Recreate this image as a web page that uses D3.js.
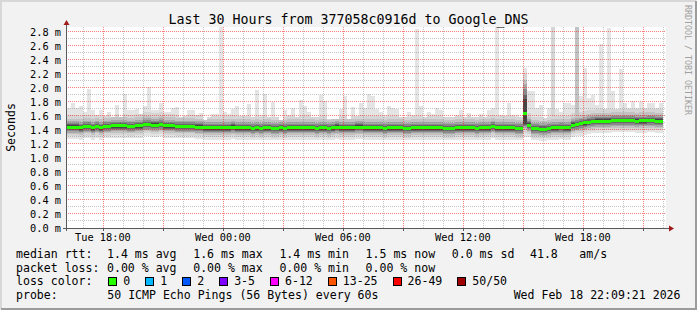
<!DOCTYPE html>
<html>
<head>
<meta charset="utf-8">
<title>Last 30 Hours from 377058c0916d to Google_DNS</title>
<script src="https://cdn.jsdelivr.net/npm/d3@7"></script>
<style>
    html, body { margin: 0; padding: 0; background: #f2f2f2; }
    svg { display: block; }
    text { font-family: "DejaVu Sans Mono", "Liberation Mono", monospace; fill: #000; white-space: pre; }
</style>
</head>
<body>
<div id="graph"></div>
<script>
const width = 697;
const height = 310;

const titleText = "Last 30 Hours from 377058c0916d to Google_DNS";
const yLabel = "Seconds";
const startTime = new Date(2026, 1, 17, 16, 9, 21);
const endTime = new Date(2026, 1, 18, 22, 9, 21);
const firstStep = new Date(2026, 1, 17, 16, 12, 0);
const stepMinutes = 12;
const yMax = 2.871;   // top of the canvas, ms

// median rtt of each 12 minute step (ms)
const medianRtt = [
    1.44, 1.44, 1.44, 1.43, 1.45, 1.45, 1.43, 1.45, 1.43, 1.45,
    1.45, 1.46, 1.46, 1.46, 1.46, 1.45, 1.45, 1.46, 1.46, 1.48,
    1.48, 1.47, 1.47, 1.48, 1.46, 1.46, 1.46, 1.45, 1.45, 1.45,
    1.45, 1.45, 1.44, 1.44, 1.43, 1.43, 1.43, 1.43, 1.43, 1.43,
    1.43, 1.44, 1.43, 1.43, 1.43, 1.43, 1.42, 1.43, 1.42, 1.43,
    1.43, 1.42, 1.42, 1.43, 1.42, 1.43, 1.43, 1.43, 1.43, 1.43,
    1.43, 1.43, 1.42, 1.43, 1.43, 1.42, 1.43, 1.44, 1.43, 1.43,
    1.43, 1.43, 1.44, 1.44, 1.43, 1.43, 1.43, 1.43, 1.43, 1.42,
    1.43, 1.43, 1.43, 1.43, 1.42, 1.42, 1.43, 1.43, 1.43, 1.43,
    1.43, 1.43, 1.43, 1.43, 1.42, 1.42, 1.42, 1.43, 1.43, 1.43,
    1.43, 1.43, 1.42, 1.43, 1.43, 1.43, 1.45, 1.43, 1.43, 1.43,
    1.43, 1.43, 1.42, 1.42, 1.64, 1.47, 1.42, 1.42, 1.41, 1.41,
    1.42, 1.43, 1.43, 1.435, 1.43, 1.43, 1.47, 1.48, 1.49, 1.50,
    1.51, 1.52, 1.525, 1.525, 1.525, 1.525, 1.535, 1.535, 1.535, 1.535,
    1.535, 1.535, 1.525, 1.53, 1.53, 1.535, 1.535, 1.525, 1.525
];

// slowest ping of each step (ms)
const maxRtt = [
    1.71, 1.79, 1.71, 1.74, 1.65, 1.99, 1.69, 1.61, 1.68, 1.60,
    1.65, 1.59, 1.76, 1.59, 1.91, 1.68, 1.69, 1.70, 1.63, 1.74,
    2.01, 1.69, 1.68, 1.78, 1.65, 1.65, 1.72, 1.73, 1.59, 1.60,
    1.69, 1.69, 1.61, 1.64, 1.54, 1.59, 1.63, 1.63, 2.87, 1.65,
    1.63, 1.70, 1.74, 1.60, 1.60, 1.77, 1.59, 1.97, 1.61, 1.91,
    1.59, 1.80, 1.58, 1.54, 1.69, 1.61, 1.71, 1.59, 1.83, 1.74,
    1.65, 1.58, 1.58, 1.90, 1.82, 1.56, 1.56, 1.55, 1.70, 1.89,
    1.56, 1.73, 1.60, 1.79, 1.71, 1.92, 1.89, 1.70, 1.66, 1.61,
    1.74, 1.72, 1.70, 1.59, 1.59, 1.66, 1.61, 2.84, 1.74, 1.59,
    1.66, 1.63, 1.72, 1.69, 1.59, 1.59, 1.58, 1.61, 1.69, 1.58,
    1.64, 1.59, 1.58, 1.63, 1.59, 1.69, 1.71, 2.87, 1.61, 1.60,
    1.79, 1.61, 1.61, 1.58, 2.29, 1.95, 1.95, 1.72, 1.76, 1.57,
    1.72, 2.87, 1.70, 1.66, 1.79, 1.78, 1.76, 2.87, 1.88, 2.28,
    1.86, 1.90, 1.76, 2.63, 1.70, 2.86, 1.95, 1.70, 2.27, 1.78,
    1.72, 1.81, 1.71, 1.80, 1.72, 1.79, 1.79, 1.72, 1.78
];

// the smoke: ranked pings as offsets from the median (ms), outer band first
const smokeLow = [-0.17, -0.13, -0.10, -0.08, -0.06, -0.04, -0.025];
const smokeHigh = [0, 0.17, 0.12, 0.085, 0.06, 0.04, 0.025];
const smokeColors = ["#e4e4e4", "#d5d5d5", "#c2c2c2", "#a8a8a8", "#8a8a8a", "#666666", "#454545"];

// steps where many pings were slow: band tops / bottoms (ms)
const tailSteps = [114, 121, 127];
const tailTops = [
    [0, 2.20, 2.12, 2.05, 1.98, 1.90, 1.84],
    [0, 2.87, 0, 0, 0, 0, 0],
    [0, 2.87, 2.87, 0, 0, 0, 0]
];
const tailBottoms = [
    [1.30, 1.36, 1.40, 1.43, 1.45, 1.47, 1.49],
    null,
    null
];

// legend values
const statNames = ["avg", "max", "min", "now"];
const rttValues = [1.4, 1.6, 1.4, 1.5];
const rttSd = 0.0;
const amPerSec = 41.8;
const lossValues = [0, 0, 0, 0];
const lossLabels = ["0", "1", "2", "3-5", "6-12", "13-25", "26-49", "50/50"];
const lossColors = ["#26ff00", "#00b8ff", "#0059ff", "#7e00ff", "#ff00ff", "#ff5500", "#ff0000", "#a10000"];
const probeText = "50 ICMP Echo Pings (56 Bytes) every 60s";
const stampText = "Wed Feb 18 22:09:21 2026";

const plot = {left: 66, right: 666, top: 27, bottom: 228};

const svg = d3.select("#graph")
    .append("svg")
        .attr("width", width)
        .attr("height", height)

// background and the 3d shade round the image
svg.append("rect")
    .attr("width", width)
    .attr("height", height)
    .attr("fill", "#f2f2f2")
svg.append("path")
    .attr("d", `M1,${height - 1}V1H${width - 1}`)
    .attr("fill", "none")
    .attr("stroke", "#d8d8d8")
    .attr("stroke-width", 2)
svg.append("path")
    .attr("d", `M1,${height - 1}H${width - 1}V1`)
    .attr("fill", "none")
    .attr("stroke", "#9c9c9c")
    .attr("stroke-width", 2)

const x = d3.scaleTime()
    .domain([startTime, endTime])
    .range([plot.left, plot.right]);
const y = d3.scaleLinear()
    .domain([0, yMax])
    .range([plot.bottom, plot.top]);

svg.append("rect")
    .attr("x", plot.left)
    .attr("y", plot.top)
    .attr("width", plot.right - plot.left)
    .attr("height", plot.bottom - plot.top)
    .attr("fill", "#ffffff")

// one record per step and smoke band
const steps = medianRtt.map((m, i) => {
    const t0 = d3.timeMinute.offset(firstStep, i * stepMinutes);
    return {t0: t0, t1: d3.timeMinute.offset(t0, stepMinutes), median: m, max: maxRtt[i], tail: tailSteps.indexOf(i)};
});

const bands = [];
steps.forEach(s => {
    smokeColors.forEach((c, j) => {
        let top = j === 0 ? s.max : Math.min(s.max, s.median + smokeHigh[j]);
        let bottom = s.median + smokeLow[j];
        if (s.tail >= 0) {
            top = Math.max(top, tailTops[s.tail][j]);
            if (tailBottoms[s.tail]) bottom = Math.min(bottom, tailBottoms[s.tail][j]);
        }
        bands.push({t0: s.t0, t1: s.t1, top: top, bottom: bottom, color: c});
    });
});

svg.append("g")
    .attr("id", "smoke")
    .attr("shape-rendering", "crispEdges")
    .selectAll("rect")
    .data(bands)
    .enter()
    .append("rect")
        .attr("x", d => x(d.t0))
        .attr("width", d => x(d.t1) - x(d.t0))
        .attr("y", d => y(d.top))
        .attr("height", d => y(d.bottom) - y(d.top))
        .attr("fill", d => d.color)

// grid, drawn over the smoke like rrdtool does
const yMajor = y.ticks(15).filter(v => v > 0);
const yMinor = y.ticks(30).filter(v => v > 0 && !yMajor.some(m => Math.abs(m - v) < 1e-9));
const xMinor = x.ticks(d3.timeHour.every(1));
const xMajor = x.ticks(d3.timeHour.every(3));
const xLabels = x.ticks(d3.timeHour.every(6));
const snap = v => Math.round(v) + 0.5;
const minorColor = "rgba(110,110,110,0.4)";
const majorColor = "rgba(255,0,0,0.5)";

const grid = svg.append("g")
    .attr("id", "grid")
    .attr("stroke-dasharray", "1,1")
    .attr("shape-rendering", "crispEdges")

grid.selectAll(".hminor")
    .data(yMinor)
    .enter()
    .append("line")
        .attr("x1", plot.left).attr("x2", plot.right)
        .attr("y1", d => snap(y(d) - 0.5)).attr("y2", d => snap(y(d) - 0.5))
        .attr("stroke", minorColor)
grid.selectAll(".vminor")
    .data(xMinor.filter(t => t.getHours() % 3 !== 0))
    .enter()
    .append("line")
        .attr("x1", d => snap(x(d))).attr("x2", d => snap(x(d)))
        .attr("y1", plot.top).attr("y2", plot.bottom)
        .attr("stroke", minorColor)
grid.selectAll(".hmajor")
    .data(yMajor)
    .enter()
    .append("line")
        .attr("x1", plot.left).attr("x2", plot.right)
        .attr("y1", d => snap(y(d) - 0.5)).attr("y2", d => snap(y(d) - 0.5))
        .attr("stroke", majorColor)
grid.selectAll(".vmajor")
    .data(xMajor)
    .enter()
    .append("line")
        .attr("x1", d => snap(x(d))).attr("x2", d => snap(x(d)))
        .attr("y1", plot.top).attr("y2", plot.bottom)
        .attr("stroke", majorColor)

// median rtt, coloured by loss (all steps had 0 loss)
const medianBand = 3;
svg.append("g")
    .attr("id", "median")
    .attr("shape-rendering", "crispEdges")
    .selectAll("rect")
    .data(steps)
    .enter()
    .append("rect")
        .attr("x", d => x(d.t0))
        .attr("width", d => x(d.t1) - x(d.t0))
        .attr("y", d => y(d.median) - medianBand / 2)
        .attr("height", medianBand)
        .attr("fill", lossColors[0])

// axes with arrows
const axisColor = "#5a5a5a";
const arrowColor = "#a01a1a";
svg.append("line")
    .attr("x1", plot.left - 3).attr("x2", plot.right + 3)
    .attr("y1", plot.bottom + 0.5).attr("y2", plot.bottom + 0.5)
    .attr("stroke", axisColor)
svg.append("line")
    .attr("x1", plot.left + 0.5).attr("x2", plot.left + 0.5)
    .attr("y1", plot.bottom + 3).attr("y2", plot.top - 3)
    .attr("stroke", axisColor)
svg.append("path")
    .attr("d", `M${plot.right + 3},${plot.bottom - 2.5}L${plot.right + 8},${plot.bottom + 0.5}L${plot.right + 3},${plot.bottom + 3.5}Z`)
    .attr("fill", arrowColor)
svg.append("path")
    .attr("d", `M${plot.left - 2.5},${plot.top - 2}L${plot.left + 0.5},${plot.top - 7}L${plot.left + 3.5},${plot.top - 2}Z`)
    .attr("fill", arrowColor)

svg.append("g")
    .selectAll("line")
    .data(xMajor)
    .enter()
    .append("line")
        .attr("x1", d => snap(x(d))).attr("x2", d => snap(x(d)))
        .attr("y1", plot.bottom).attr("y2", plot.bottom + 3)
        .attr("stroke", axisColor)
        .attr("shape-rendering", "crispEdges")

// tick labels
const timeLabel = d3.timeFormat("%a %H:%M");
svg.append("g")
    .style("font-size", "10.3px")
    .selectAll("text")
    .data(xLabels)
    .enter()
    .append("text")
        .attr("x", d => x(d))
        .attr("y", plot.bottom + 13)
        .attr("text-anchor", "middle")
        .text(d => timeLabel(d))

svg.append("g")
    .style("font-size", "10.3px")
    .selectAll("text")
    .data(y.ticks(15))
    .enter()
    .append("text")
        .attr("x", 61)
        .attr("y", d => y(d) + 3.6)
        .attr("text-anchor", "end")
        .text(d => d3.format(".1f")(d) + " m")

// titles
svg.append("text")
    .attr("x", 348.5)
    .attr("y", 24)
    .attr("text-anchor", "middle")
    .style("font-size", "13.3px")
    .text(titleText)

svg.append("text")
    .attr("transform", "translate(15,127.5) rotate(-90)")
    .attr("text-anchor", "middle")
    .style("font-size", "11.55px")
    .text(yLabel)

svg.append("text")
    .attr("transform", "translate(685,60) rotate(90)")
    .attr("text-anchor", "middle")
    .style("font-size", "8.3px")
    .style("fill", "#a0a0a0")
    .text("RRDTOOL / TOBI OETIKER")

// legend
const charW = 6.95;
const rowY = [258, 271.5, 285.3, 299];
const colX = d3.range(statNames.length + 1).map(i => 107 + i * 86.2);
const legend = svg.append("g")
    .attr("id", "legend")
    .style("font-size", "11.55px")

function legendText(lx, ly, str, anchor) {
    return legend.append("text")
        .attr("x", lx)
        .attr("y", ly)
        .attr("text-anchor", anchor || "start")
        .text(str)
}

legendText(16, rowY[0], "median rtt:")
statNames.forEach((name, i) => legendText(colX[i], rowY[0], `${d3.format(".1f")(rttValues[i])} ms ${name}`))
legendText(colX[4], rowY[0], `${d3.format(".1f")(rttSd)} ms sd`)
legendText(530, rowY[0], d3.format(".1f")(amPerSec))
legendText(579.3, rowY[0], "am/s")

legendText(16, rowY[1], "packet loss:")
statNames.forEach((name, i) => legendText(colX[i], rowY[1], `${d3.format(".2f")(lossValues[i])} % ${name}`))

legendText(16, rowY[2], "loss color:")
let boxX = 108.3;
lossLabels.forEach((label, i) => {
    legend.append("rect")
        .attr("x", Math.round(boxX) + 0.5)
        .attr("y", 277.5)
        .attr("width", 8)
        .attr("height", 8)
        .attr("fill", lossColors[i])
        .attr("stroke", "#000")
    legendText(boxX + 15, rowY[2], label)
    boxX += 15 + label.length * charW + 15;
});

legendText(16, rowY[3], "probe:")
legendText(107.3, rowY[3], probeText)
legendText(680.5, rowY[3], stampText, "end")
</script>
</body>
</html>
